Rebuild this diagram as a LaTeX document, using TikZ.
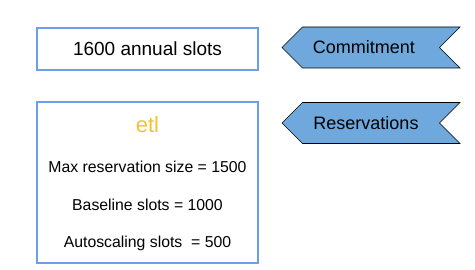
\documentclass[tikz,border=0pt]{standalone}
\usepackage{fontspec}
\setmainfont{Liberation Sans}
\usetikzlibrary{positioning,shapes.symbols}
\definecolor{boxblue}{HTML}{6D9EEB}
\definecolor{tagblue}{HTML}{6FA8DC}
\definecolor{etlgold}{HTML}{F1C232}

\begin{document}
\begin{tikzpicture}[x=1pt, y=-1pt,
  slotbox/.style={draw=boxblue, line width=2.5pt, minimum width=221pt, inner sep=0pt},
  tag/.style={signal, signal to=west, signal from=east, signal pointer angle=90, draw=black, fill=tagblue, line width=0.6pt, minimum width=178pt, minimum height=41pt, inner sep=0pt},
  tagtext/.style={font=\fontsize{18}{20}\selectfont},
  line/.style={font=\fontsize{15.8}{18}\selectfont}
]
\useasboundingbox (0,0) rectangle (475,270);
% slot boxes
\node[slotbox, minimum height=42pt, font=\fontsize{19}{21}\selectfont] (annual) at (147.5,49) {1600 annual slots};
\node[slotbox, minimum height=161pt] (etl) at (147.5,182.5) {};
\node[font=\fontsize{22}{24}\selectfont, text=etlgold] (name) at (147.5,125) {etl};
\node[line] (max) at (147.5,167) {Max reservation size = 1500};
\node[line] (base) at (147.5,205) {Baseline slots = 1000};
\node[line] (auto) at (147.5,243) {Autoscaling slots\ \ = 500};
% tags
\node[tag] (commit) at (371,47.5) {};
\node[tagtext] (committxt) at (364,47.5) {Commitment};
\node[tag] (resv) at (371,123) {};
\node[tagtext] (resvtxt) at (366,123) {Reservations};
\end{tikzpicture}
\end{document}
